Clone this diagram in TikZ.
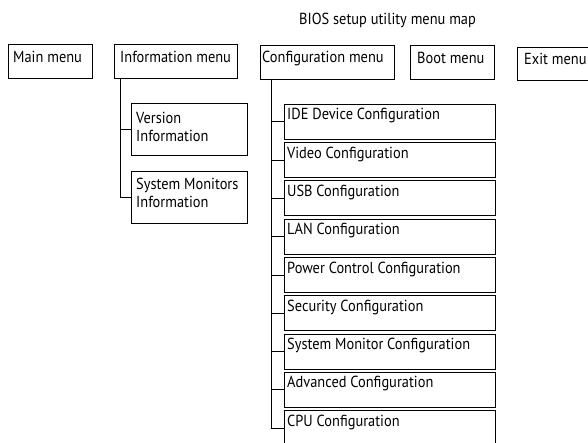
\documentclass[tikz,border=0pt]{standalone}
\usepackage{fontspec}
\setmainfont{PT Sans}[FakeStretch=0.9]
\begin{document}
\begin{tikzpicture}[x=1pt,y=-1pt,
  box/.style={draw=black, line width=0.9pt, anchor=north west, inner sep=0pt},
  topbox/.style={box, minimum height=34pt},
  subbox/.style={box, minimum width=211pt, minimum height=35pt},
  infobox/.style={box, minimum width=116pt, minimum height=52pt},
  txt/.style={anchor=base west, inner sep=0pt, align=left,
    font=\fontsize{16}{18.3}\selectfont},
  link/.style={draw=black, line width=0.9pt}
]
\useasboundingbox (0,0) rectangle (588,443);
\node[txt] (title) at (299,25) {BIOS setup utility menu map};
% top row
\node[topbox, minimum width=84pt] (main) at (8,44) {};
\node[txt] (maint) at ([shift={(5,19)}]main.north west) {Main menu};
\node[topbox, minimum width=123pt] (info) at (114,44) {};
\node[txt] (infot) at ([shift={(6,19)}]info.north west) {Information menu};
\node[topbox, minimum width=134pt] (conf) at (260,45) {};
\node[txt] (conft) at ([shift={(2,18)}]conf.north west) {Configuration menu};
\node[topbox, minimum width=84pt] (boot) at (410,45) {};
\node[txt] (boott) at ([shift={(7,19)}]boot.north west) {Boot menu};
\node[topbox, minimum width=90pt, minimum height=33pt] (exit) at (517,47) {};
\node[txt] (exitt) at ([shift={(7,18)}]exit.north west) {Exit menu};
% information submenu
\node[infobox] (ver) at (131,103) {};
\node[txt] (vert) at ([shift={(5,39)}]ver.north west) {Version\\Information};
\node[infobox] (sys) at (131,171) {};
\node[txt] (syst) at ([shift={(5,37)}]sys.north west) {System Monitors\\Information};
\coordinate (infoA) at ([xshift=6pt]info.south west);
\draw[link] (infoA) |- (ver.west);
\draw[link] (infoA) |- (sys.west);
% configuration submenu
\coordinate (confA) at ([xshift=11pt]conf.south west);
\foreach \n/\t [count=\i from 0] in {ide/IDE Device Configuration,
  vid/Video Configuration, usb/USB Configuration, lan/LAN Configuration,
  pwr/Power Control Configuration, sec/Security Configuration,
  smc/System Monitor Configuration, adv/Advanced Configuration,
  cpu/CPU Configuration}{
  \node[subbox] (\n) at (284,104+38.25*\i) {};
  \node[txt] (\n t) at ([shift={(3,16)}]\n.north west) {\t};
  \draw[link] (confA) |- (\n.west);
}
\end{tikzpicture}
\end{document}
